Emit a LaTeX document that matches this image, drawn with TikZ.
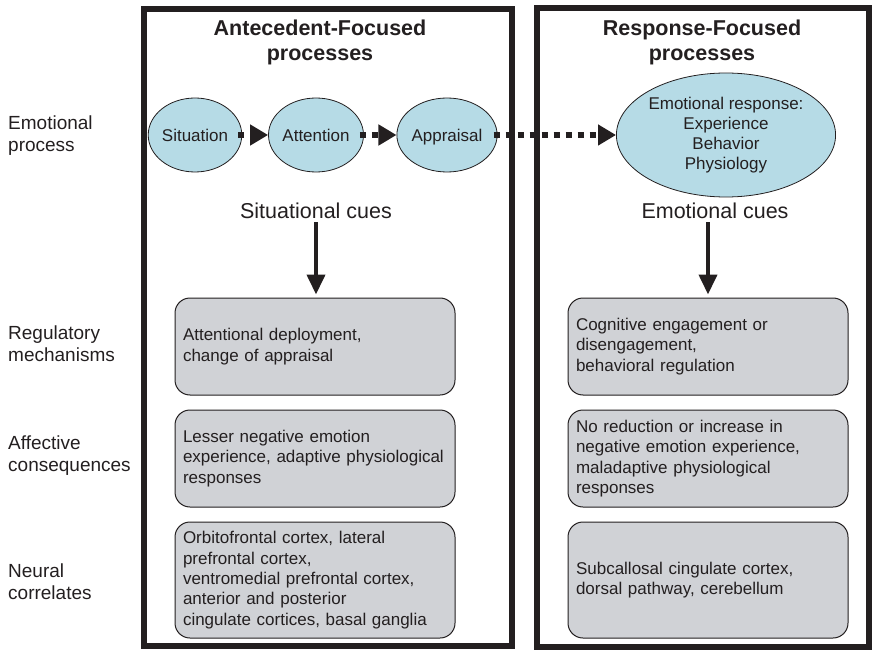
\documentclass[tikz,border=0pt]{standalone}
\usepackage{fontspec}
\setmainfont{Liberation Sans}
\usetikzlibrary{shapes.geometric,arrows.meta}
\definecolor{ink}{HTML}{231F20}
\definecolor{ellfill}{RGB}{182,219,230}
\definecolor{boxfill}{RGB}{208,210,214}
\hyphenpenalty=10000
\exhyphenpenalty=10000
\begin{document}
\begin{tikzpicture}[x=1pt,y=-1pt,
 panel/.style={draw=ink,line width=6pt},
 title/.style={font=\bfseries\fontsize{21.5}{25}\selectfont, align=center, text=ink, inner sep=0},
 side/.style={font=\fontsize{19}{22}\selectfont, align=left, anchor=west, text=ink, inner sep=0},
 ell/.style={ellipse, draw=ink, line width=0.8pt, fill=ellfill, inner sep=0, font=\fontsize{17}{20}\selectfont, text=ink, align=center},
 one/.style={text height=15pt, text depth=1pt},
 rbox/.style={draw=ink, line width=1pt, fill=boxfill, rounded corners=15pt, minimum width=280pt, text width=264pt, align=left, inner xsep=8pt, inner ysep=8pt, font=\fontsize{17}{20.3}\selectfont, text=ink},
 cue/.style={font=\fontsize{21.5}{25}\selectfont, text=ink},
 dotarrow/.style={draw=ink, line width=6pt, dash pattern=on 6pt off 6pt, -{Triangle[length=18pt,width=20pt]}, shorten <=-4pt},
 downarrow/.style={draw=ink, line width=4pt, -{Triangle[length=20pt,width=18pt]}, shorten >=3pt}
]
\useasboundingbox (0,0) rectangle (872,652);
% panels
\draw[panel] (144,9) rectangle (512,646);
\draw[panel] (537,8) rectangle (869,647);
% titles
\node[title] (t1) at (320,42) {Antecedent-Focused\\processes};
\node[title] (t2) at (702,42) {Response-Focused\\processes};
% side labels
\node[side] (s1) at (8,136) {Emotional\\process};
\node[side] (s2) at (8,344) {Regulatory\\mechanisms};
\node[side] (s3) at (8,456) {Affective\\consequences};
\node[side] (s4) at (8,582) {Neural\\correlates};
% ellipses
\node[ell, one, minimum width=84pt, minimum height=74pt] (sit) at (195,135) {Situation};
\node[ell, one, minimum width=95pt, minimum height=74pt] (att) at (316,135) {Attention};
\node[ell, one, minimum width=95pt, minimum height=74pt] (app) at (447,135) {Appraisal};
\node[ell, minimum width=215pt, minimum height=124pt] (emo) at (726,135) {Emotional response:\\Experience\\Behavior\\Physiology};
% dotted arrows
\draw[dotarrow] (sit) -- (att);
\draw[dotarrow] (att) -- (app);
\draw[dotarrow] (app) -- (emo);
% cues
\node[cue] (scue) at (316,211) {Situational cues};
\node[cue] (ecue) at (715,211) {Emotional cues};
% boxes
\node[rbox, minimum height=97pt] (lreg) at (315,346.5) {Attentional deployment,\\change of appraisal};
\node[rbox, minimum height=97pt] (laff) at (315,458.5) {Lesser negative emotion\\experience, adaptive physiological\\responses};
\node[rbox, minimum height=116pt] (lneu) at (315,580) {Orbitofrontal cortex, lateral\\prefrontal cortex,\\ventromedial prefrontal cortex,\\anterior and posterior\\cingulate cortices, basal ganglia};
\node[rbox, minimum height=97pt] (rreg) at (708,346.5) {Cognitive engagement or\\disengagement,\\behavioral regulation};
\node[rbox, minimum height=97pt] (raff) at (708,458.5) {No reduction or increase in\\negative emotion experience,\\maladaptive physiological\\responses};
\node[rbox, minimum height=116pt] (rneu) at (708,580) {Subcallosal cingulate cortex,\\dorsal pathway, cerebellum};
% down arrows
\draw[downarrow] (scue.south) -- (scue.south |- lreg.north);
\draw[downarrow] (ecue.south -| rreg.north) -- (rreg.north);
\end{tikzpicture}
\end{document}
